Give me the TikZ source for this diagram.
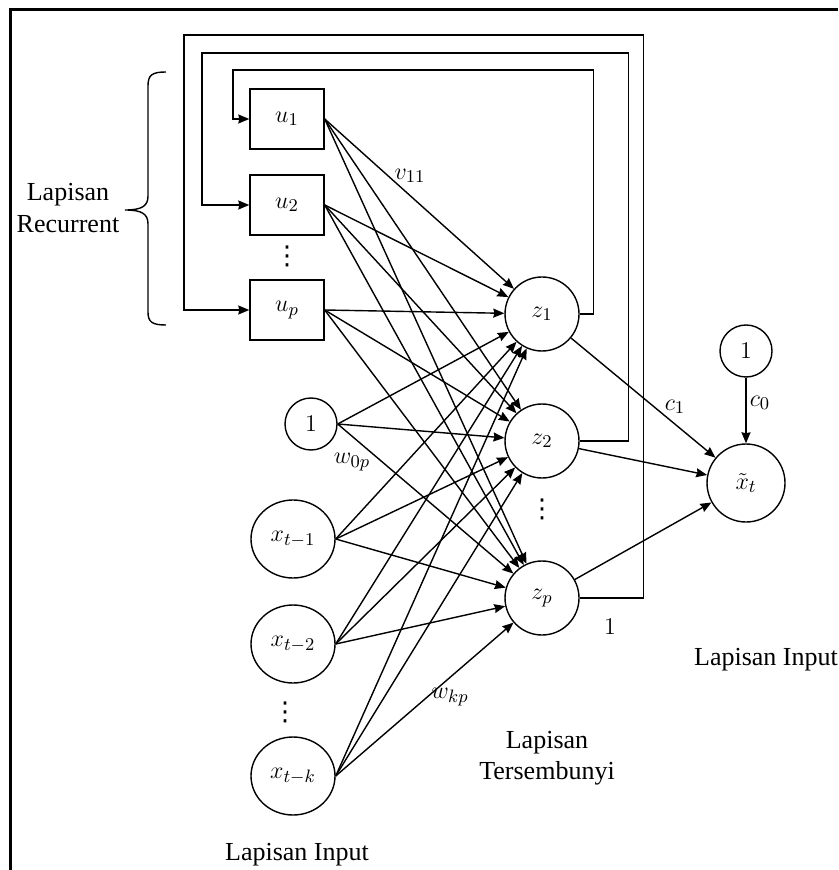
\documentclass[tikz,border=0pt]{standalone}
\usepackage{fontspec}
\setmainfont{Liberation Serif}
\newfontfamily\symfont{DejaVu Sans}
\usetikzlibrary{shapes.geometric,arrows.meta}

\begin{document}
\begin{tikzpicture}[x=0.5pt,y=-0.5pt,>={Stealth[length=5.5pt,width=4.5pt,inset=0.5pt]},line width=0.7pt,
  font=\fontsize{13}{15.6}\selectfont,
  ubox/.style={rectangle,draw,minimum width=37pt,minimum height=30pt},
  neuron/.style={circle,draw,minimum size=37pt,inner sep=0pt},
  bias/.style={circle,draw,minimum size=26pt,inner sep=0pt},
  inp/.style={ellipse,draw,minimum width=42pt,minimum height=39pt,inner sep=0pt},
  dots/.style={inner sep=0pt,font=\symfont\fontsize{13}{15.6}\selectfont}]

\useasboundingbox (0,0) rectangle (838,870);
\draw[line width=1.5pt] (10,870) |- (838,10);

\coordinate (cU1) at (287,119);
\coordinate (cU2) at (287,205);
\coordinate (cUp) at (287,310);
\coordinate (cB0) at (311,424);
\coordinate (cX1) at (293,539);
\coordinate (cX2) at (293,644);
\coordinate (cXk) at (293,776);
\coordinate (cZ1) at (542,314);
\coordinate (cZ2) at (542,441);
\coordinate (cZp) at (542,598);
\coordinate (cB1) at (746,351);
\coordinate (cY)  at (746,483);

\node[ubox]   (U1) at (cU1) {$u_1$};
\node[ubox]   (U2) at (cU2) {$u_2$};
\node[ubox]   (Up) at (cUp) {$u_p$};
\node[bias]   (B0) at (cB0) {$1$};
\node[inp]    (X1) at (cX1) {$x_{t-1}$};
\node[inp]    (X2) at (cX2) {$x_{t-2}$};
\node[inp]    (Xk) at (cXk) {$x_{t-k}$};
\node[neuron] (Z1) at (cZ1) {$z_1$};
\node[neuron] (Z2) at (cZ2) {$z_2$};
\node[neuron] (Zp) at (cZp) {$z_p$};
\node[bias]   (B1) at (cB1) {$1$};
\node[neuron,minimum size=39pt] (Y) at (cY) {$\tilde{x}_t$};

\node[dots] (dU) at (287,256) {⋮};
\node[dots] (dX) at (285,712) {⋮};
\node[dots] (dZ) at (542,509) {⋮};

\foreach \s in {U1,U2,Up,B0,X1,X2,Xk}
  \foreach \t in {Z1,Z2,Zp}
    \draw[->] (\s.east) -- (\t);
\foreach \t in {Z1,Z2,Zp}
  \draw[->] (\t) -- (Y);
\draw[->] (B1) -- (Y);

% umpan balik ke lapisan recurrent
\draw[->] (Z1.east) -- ++(14,0) |- (233,70) |- (U1.west);
\draw[->] (Z2.east) -- ++(49,0) |- (202,53) |- (U2.west);
\draw[->] (Zp.east) -- ++(64,0) |- (184,35) |- (Up.west);

\node (lv)  at (410,176) {$v_{11}$};
\node (lw0) at (352,462) {$w_{0p}$};
\node (lwk) at (450,697) {$w_{kp}$};
\node (lc1) at (675,407) {$c_1$};
\node (lc0) at (760,403) {$c_0$};
\node (l1)  at (610,627) {$1$};

% kurung kurawal
\draw (166,72) .. controls (152,72) and (148,75) .. (148,86) -- (148,196)
  .. controls (148,206) and (142,210) .. (125,210)
  .. controls (142,210) and (148,214) .. (148,224) -- (148,312)
  .. controls (148,322) and (152,325) .. (166,325);
\node[align=center] (tR) at (68,208) {Lapisan\\Recurrent};
\node[align=center] (tH) at (547,758) {Lapisan\\Tersembunyi};
\node (tI) at (297,855) {Lapisan Input};
\node (tO) at (766,660) {Lapisan Input};

\end{tikzpicture}
\end{document}
